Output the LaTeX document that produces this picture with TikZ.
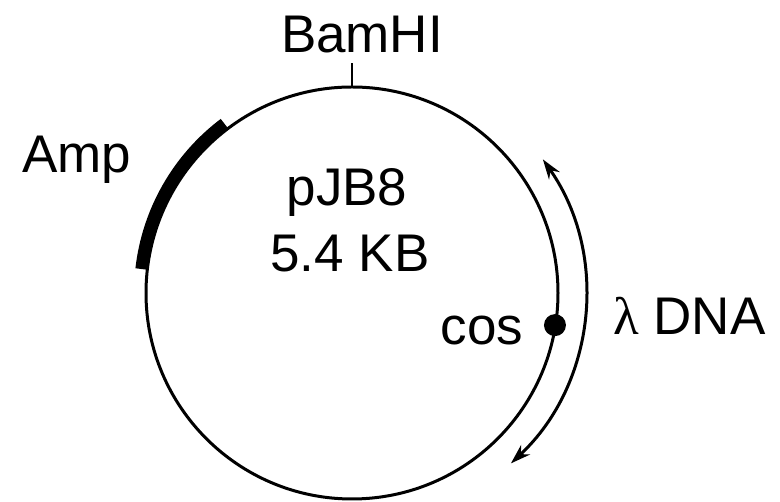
\documentclass[tikz,border=0pt]{standalone}
\usepackage{fontspec}
\setmainfont{Liberation Sans}
\newfontfamily\lamfont{Liberation Serif}
\usetikzlibrary{arrows.meta}
\begin{document}
\begin{tikzpicture}[x=1pt,y=1pt,
  lbl/.style={inner sep=0pt, anchor=base, font=\fontsize{53}{60}\selectfont},
  ring/.style={line width=3pt},
  ltip/.tip={Stealth[length=20pt,width=13pt]}]
\useasboundingbox (0,0) rectangle (780,502);
\coordinate (c) at (352,209);
\draw[ring] (c) circle[radius=206];
\coordinate (top) at (352,415);
\coordinate (tickend) at (352,439);
\draw[line width=2.5pt] (top) -- (tickend);
\draw[line width=12pt] ([shift={(127:212)}]c) arc[start angle=127, end angle=173.5, radius=212];
\draw[line width=3pt, arrows={ltip-ltip}] ([shift={(35:233)}]c) arc[start angle=35, end angle=-47, radius=233];
\fill ([shift={(-9:205.5)}]c) circle[radius=11];
\node[lbl] (bam) at (362,449) {BamHI};
\node[lbl] (amp) at (76.5,329) {Amp};
\node[lbl] (name) at (347,296) {pJB8};
\node[lbl] (size) at (350,230) {5.4 KB};
\node[lbl] (cos) at (482,157) {cos};
\node[lbl, anchor=base west] (lam) at (613,167) {{\lamfont λ} DNA};
\end{tikzpicture}
\end{document}
